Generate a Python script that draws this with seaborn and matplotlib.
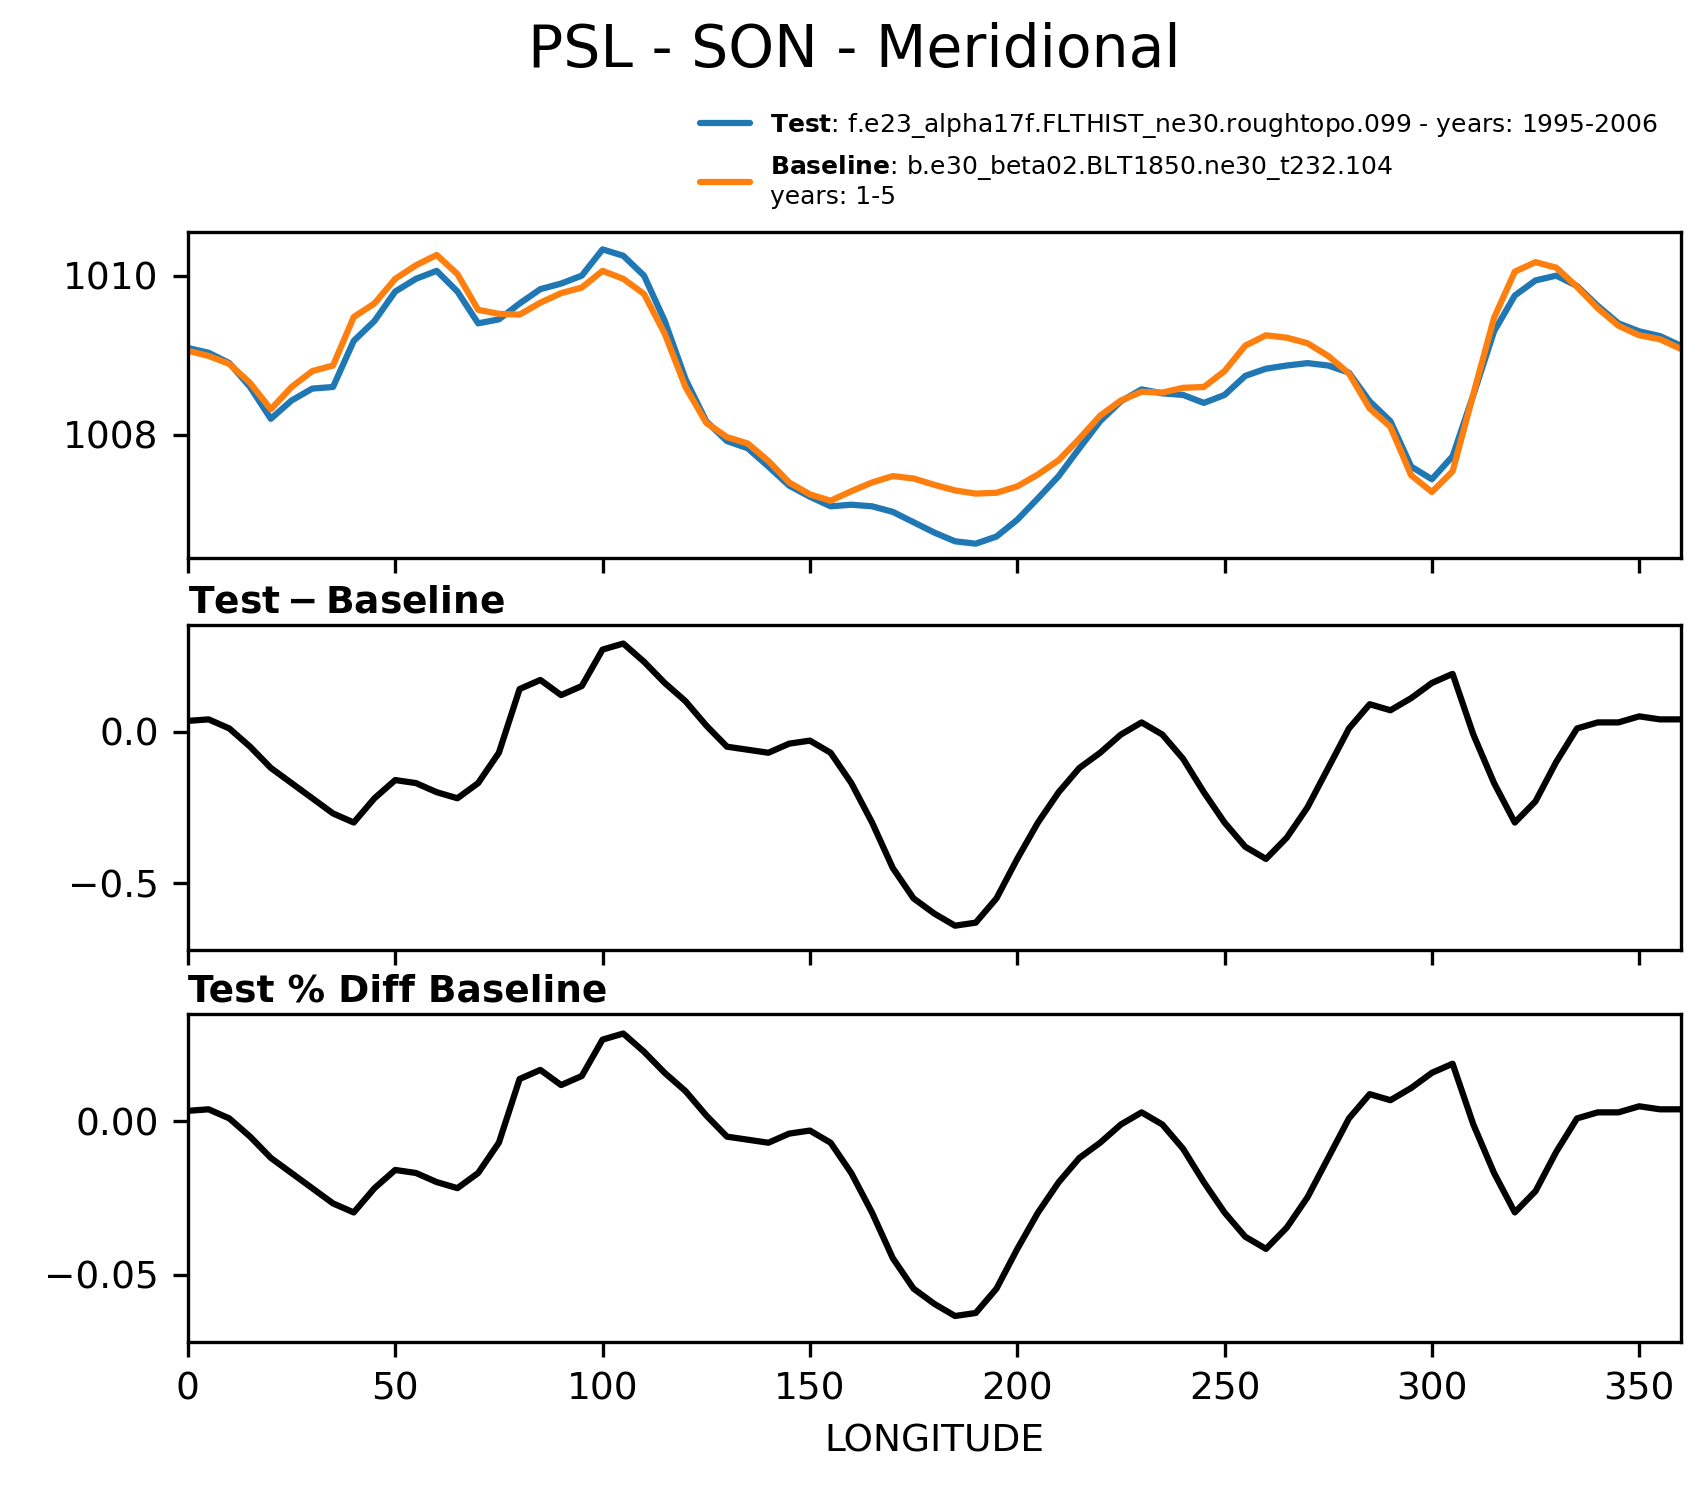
import numpy as np
import pandas as pd
import matplotlib
matplotlib.use("Agg")
import matplotlib.pyplot as plt
import seaborn as sns

lon = list(range(0, 361, 5))
test = [1009.09,1009.03,1008.9,1008.6,1008.2,1008.43,1008.58,1008.6,1009.18,1009.43,1009.8,1009.96,1010.06,1009.8,1009.4,1009.45,
        1009.65,1009.83,1009.9,1010.0,1010.33,1010.25,1010.0,1009.43,1008.7,1008.17,1007.92,1007.83,1007.6,1007.36,1007.22,1007.1,
        1007.12,1007.1,1007.03,1006.9,1006.77,1006.66,1006.63,1006.72,1006.93,1007.2,1007.48,1007.83,1008.17,1008.42,1008.57,1008.52,
        1008.5,1008.4,1008.5,1008.74,1008.83,1008.87,1008.9,1008.87,1008.78,1008.42,1008.17,1007.6,1007.44,1007.73,1008.5,1009.3,
        1009.75,1009.94,1010.0,1009.87,1009.62,1009.4,1009.3,1009.24,1009.12]
diff = [0.035,0.04,0.01,-0.05,-0.12,-0.17,-0.22,-0.27,-0.3,-0.22,-0.16,-0.17,-0.2,-0.22,-0.17,-0.07,0.14,0.17,0.12,0.15,0.27,0.29,
        0.23,0.16,0.1,0.02,-0.05,-0.06,-0.07,-0.04,-0.03,-0.07,-0.17,-0.3,-0.45,-0.55,-0.6,-0.64,-0.63,-0.55,-0.42,-0.3,-0.2,-0.12,
        -0.07,-0.01,0.03,-0.01,-0.09,-0.2,-0.3,-0.38,-0.42,-0.35,-0.25,-0.12,0.01,0.09,0.07,0.11,0.16,0.19,-0.01,-0.17,-0.3,-0.23,
        -0.1,0.01,0.03,0.03,0.05,0.04,0.04]

df = pd.DataFrame({"lon": lon, "test": test, "diff": diff})
df["base"] = df["test"] - df["diff"]
df["pct"] = df["diff"] / df["base"] * 100

sns.set_style("ticks")
plt.rcParams["font.family"] = ["DejaVu Sans"]
plt.rcParams.update({"text.color": "black", "axes.labelcolor": "black",
                     "xtick.color": "black", "ytick.color": "black", "axes.edgecolor": "black"})
fig = plt.figure(figsize=(1708/300, 1496/300), dpi=300)
L, W = 0.110, 0.874
ax1 = fig.add_axes([L, 0.627, W, 0.218])
ax2 = fig.add_axes([L, 0.365, W, 0.217])
ax3 = fig.add_axes([L, 0.103, W, 0.219])

sns.lineplot(data=df, x="lon", y="test", ax=ax1, color="#1f77b4", lw=1.5,
             label=r"$\bf{Test}$: f.e23_alpha17f.FLTHIST_ne30.roughtopo.099 - years: 1995-2006")
sns.lineplot(data=df, x="lon", y="base", ax=ax1, color="#ff7f0e", lw=1.5,
             label="$\\bf{Baseline}$: b.e30_beta02.BLT1850.ne30_t232.104\nyears: 1-5")
sns.lineplot(data=df, x="lon", y="diff", ax=ax2, color="black", lw=1.5)
sns.lineplot(data=df, x="lon", y="pct", ax=ax3, color="black", lw=1.5)

ax1.legend(loc="lower right", bbox_to_anchor=(1.0, 1.0), frameon=False, fontsize=6)
ax1.set_ylim(1006.45, 1010.55)
ax1.set_yticks([1008, 1010])
ax2.set_ylim(-0.72, 0.35)
ax2.set_yticks([-0.5, 0.0])
ax3.set_ylim(-0.072, 0.035)
ax3.set_yticks([-0.05, 0.0])
ax3.set_yticklabels(["\u22120.05", "0.00"])
for ax in (ax1, ax2, ax3):
    ax.set_xlim(0, 360)
    ax.set_xticks(range(0, 351, 50))
    ax.set_ylabel("")
    ax.set_xlabel("")
    ax.tick_params(labelsize=9)
for ax in (ax1, ax2):
    ax.set_xticklabels([])
ax2.set_title(r"$\bf{Test-Baseline}$", loc="left", fontsize=9, pad=3)
ax3.set_title("Test % Diff Baseline", loc="left", fontsize=9, fontweight="bold", pad=3)
ax3.set_xlabel("LONGITUDE", fontsize=9)
fig.suptitle("PSL - SON - Meridional", fontsize=14, y=0.985)
fig.savefig("out.png", dpi=300)
